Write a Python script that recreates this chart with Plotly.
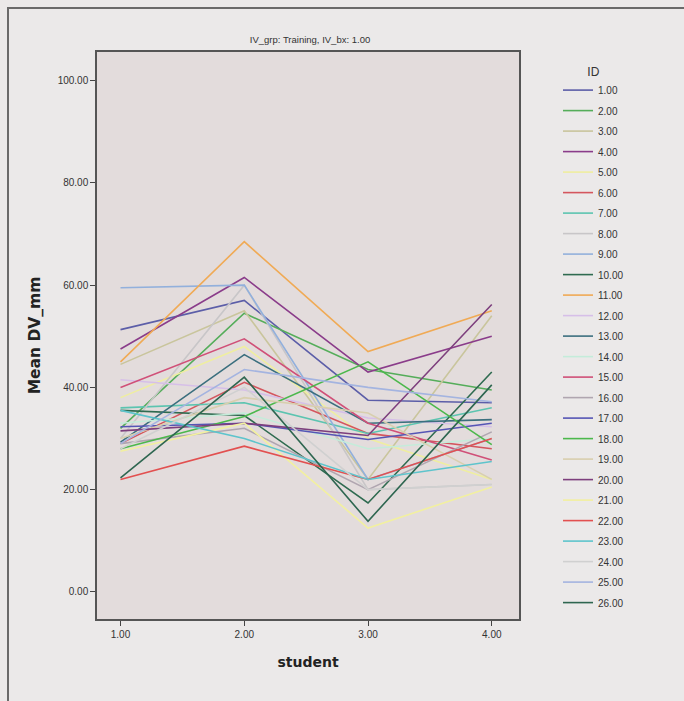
import plotly.graph_objects as go

student = [1, 2, 3, 4]
ids = ["1.00", "2.00", "3.00", "4.00", "5.00", "6.00", "7.00", "8.00", "9.00", "10.00",
       "11.00", "12.00", "13.00", "14.00", "15.00", "16.00", "17.00", "18.00", "19.00",
       "20.00", "21.00", "22.00", "23.00", "24.00", "25.00", "26.00"]

id01 = [51.3, 57.0, 37.5, 37.0]
id02 = [32.0, 54.5, 43.5, 39.5]
id03 = [44.5, 55.0, 22.0, 54.0]
id04 = [47.5, 61.5, 43.0, 50.0]
id05 = [38.0, 48.0, 30.0, 22.0]
id06 = [29.0, 41.0, 31.0, 28.0]
id07 = [36.0, 37.0, 31.0, 36.0]
id08 = [30.0, 60.0, 20.0, 21.0]
id09 = [59.5, 60.0, 22.0, 30.0]
id10 = [35.5, 34.5, 17.4, 43.0]
id11 = [45.0, 68.5, 47.0, 55.0]
id12 = [41.5, 39.5, 34.0, 32.3]
id13 = [29.3, 46.4, 33.0, 33.7]
id14 = [33.0, 35.0, 28.0, 30.0]
id15 = [40.0, 49.5, 33.0, 25.8]
id16 = [29.0, 32.0, 20.0, 31.3]
id17 = [32.3, 33.0, 29.8, 33.0]
id18 = [28.0, 34.3, 45.0, 28.8]
id19 = [30.0, 38.0, 35.0, 22.0]
id20 = [31.5, 33.0, 30.6, 56.2]
id21 = [27.5, 33.0, 12.5, 20.5]
id22 = [22.0, 28.5, 22.0, 30.0]
id23 = [35.5, 30.0, 22.0, 25.5]
id24 = [28.0, 40.0, 20.0, 21.0]
id25 = [29.0, 43.5, 40.0, 37.2]
id26 = [22.3, 42.0, 13.8, 40.5]

series = [id01, id02, id03, id04, id05, id06, id07, id08, id09, id10, id11, id12, id13,
          id14, id15, id16, id17, id18, id19, id20, id21, id22, id23, id24, id25, id26]

colors = ["#5c5ea8", "#55ad5a", "#c9c59c", "#8a3c8a", "#efeea0", "#d4565e", "#5cc4b0",
          "#c8c6c8", "#92b0dc", "#2f6b50", "#f0aa55", "#d6bfe8", "#3b6f7e", "#c4ecda",
          "#d05078", "#b0a6b0", "#5555b5", "#4cb84c", "#d8cfae", "#7d3f7d", "#f2f0a0",
          "#e25050", "#5ec4cc", "#d0d0d0", "#a4b4e0", "#2e6650"]

fig = go.Figure()
for name, vals, col in zip(ids, series, colors):
    fig.add_trace(go.Scatter(x=student, y=vals, mode="lines", name=name,
                             legendgroup=name,
                             line=dict(color=col, width=1.6)))

axis_font = dict(family="Liberation Sans Narrow, Liberation Sans, Arial", size=10, color="#333333")

fig.update_layout(
    width=684, height=701,
    margin=dict(l=97, r=165, t=52, b=82),
    paper_bgcolor="#ebe9e9",
    plot_bgcolor="#e3dcdc",
    showlegend=True,
    title=dict(text="IV_grp: Training, IV_bx: 1.00", x=(97 + 213) / 684, xanchor="center",
               y=1 - 40 / 701, yanchor="middle",
               font=dict(family="Liberation Sans Narrow, Liberation Sans, Arial", size=9.5, color="#333333")),
    xaxis=dict(range=[0.81, 4.22], tickvals=student, ticktext=["1.00", "2.00", "3.00", "4.00"],
               showgrid=False, zeroline=False, ticks="outside", ticklen=5, tickcolor="#444444",
               showline=True, linecolor="#555555", linewidth=1.5, mirror=True,
               tickfont=axis_font,
               title=dict(text="<b>student</b>", standoff=18,
                          font=dict(family="DejaVu Sans, Arial", size=14, color="#222222"))),
    yaxis=dict(range=[-5.3, 105.6], tickvals=[0, 20, 40, 60, 80, 100],
               ticktext=["0.00", "20.00", "40.00", "60.00", "80.00", "100.00"],
               showgrid=False, zeroline=False, ticks="outside", ticklen=5, tickcolor="#444444",
               showline=True, linecolor="#555555", linewidth=1.5, mirror=True,
               tickfont=axis_font,
               title=dict(text="<b>Mean DV_mm</b>", standoff=13,
                          font=dict(family="DejaVu Sans, Arial", size=15.5, color="#222222"))),
    legend=dict(x=(558 - 97) / 422, xanchor="left", y=1 - 8 / 567, yanchor="top",
                bgcolor="rgba(0,0,0,0)", tracegroupgap=1.5,
                font=dict(family="Liberation Sans Narrow, Liberation Sans, Arial", size=10, color="#333333"),
                title=dict(text="ID", side="top center",
                           font=dict(family="Liberation Sans Narrow, Liberation Sans, Arial", size=12, color="#333333"))),
)

# outer frame
fig.add_shape(type="rect", xref="paper", yref="paper",
              x0=(8 - 97) / 422, x1=(700 - 97) / 422,
              y0=1 - (720 - 52) / 567, y1=1 - (8 - 52) / 567,
              line=dict(color="#6a6a6a", width=2), fillcolor="rgba(0,0,0,0)", layer="below")

fig.write_html("out.html")
